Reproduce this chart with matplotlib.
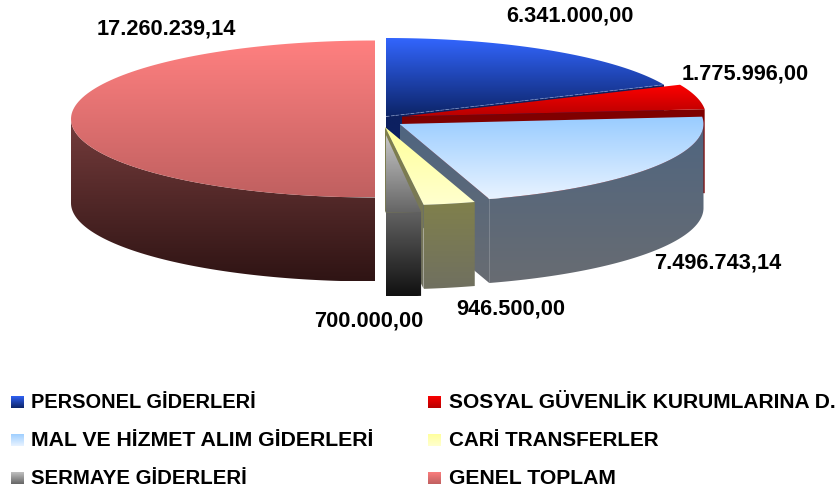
import numpy as np
import matplotlib
matplotlib.use("Agg")
import matplotlib.pyplot as plt
from matplotlib.patches import Polygon
from matplotlib.colors import to_rgb

plt.rcParams['font.family'] = ['Liberation Sans', 'DejaVu Sans']

categories = ["PERSONEL GİDERLERİ", "SOSYAL GÜVENLİK KURUMLARINA D.",
              "MAL VE HİZMET ALIM GİDERLERİ", "CARİ TRANSFERLER",
              "SERMAYE GİDERLERİ", "GENEL TOPLAM"]
values = [6341000.00, 1775996.00, 7496743.14, 946500.00, 700000.00, 17260239.14]
value_labels = ["6.341.000,00", "1.775.996,00", "7.496.743,14",
                "946.500,00", "700.000,00", "17.260.239,14"]

# presentation only
RY, DEPTH = 78.5, 84.0
radii = [304.0, 304.0, 304.0, 304.0, 280.0, 304.0]
centers = [(386, 116.5), (402, 116.5), (399.5, 124), (385, 127), (385.5, 134), (375, 119)]
top_cols = [("#3366ff", "#0c2468"), ("#ff0000", "#b80000"), ("#99ccff", "#e8f3ff"),
            ("#ffff99", "#ffffcf"), ("#c8c8c8", "#666666"), ("#ff8080", "#c06060")]
side_cols = [("#0c2060", "#0c2060"), ("#800000", "#7a0000"), ("#4f6580", "#686c72"),
             ("#80804c", "#707060"), ("#626262", "#111111"), ("#753c3c", "#2f1414")]
# (slice index, part): c = cut face, w = outer wall, t = top
draw_steps = [(0, "cwt"), (1, "cwt"), (2, "cwt"), (3, "c"), (4, "cwt"), (3, "wt"), (5, "cwt")]
label_pos = [(570, 16), (745, 74), (718, 263), (511, 309), (369, 321), (166, 29)]
legend_pos = [(11, 402), (428, 402), (11, 440), (428, 440), (11, 478), (428, 478)]
legend_text_x = [31, 449, 31, 449, 31, 449]
legend_sizes = [14.4, 15.1, 15.3, 14.9, 14.7, 15.2]

fig = plt.figure(figsize=(8.38, 4.93), dpi=100)
ax = fig.add_axes([0, 0, 1, 1])
ax.set_axis_off()


def grad_fill(pts, cols, z):
    pts = np.asarray(pts)
    x0, x1 = pts[:, 0].min(), pts[:, 0].max()
    y0, y1 = pts[:, 1].min(), pts[:, 1].max()
    c0, c1 = np.array(to_rgb(cols[0])), np.array(to_rgb(cols[1]))
    t = np.linspace(0, 1, 128)[:, None, None]
    img = c0[None, None, :] * (1 - t) + c1[None, None, :] * t
    im = ax.imshow(img, extent=(x0, x1, y1, y0), aspect='auto', zorder=z,
                   interpolation='bilinear')
    poly = Polygon(pts, closed=True, transform=ax.transData, fc='none', ec='none')
    ax.add_patch(poly)
    im.set_clip_path(poly)


def arc(i, a0, a1, dy=0.0):
    cx, cy = centers[i]
    th = np.radians(np.linspace(a0, a1, 120))
    return np.column_stack([cx + radii[i] * np.sin(th), cy - RY * np.cos(th) + dy])


total = float(np.sum(values))
angles = np.concatenate([[0], np.cumsum(values) / total * 360])

z = 1
for i, parts in draw_steps:
    a0, a1 = angles[i], angles[i + 1]
    cx, cy = centers[i]
    if "c" in parts:
        for ang in (a0, a1):
            p = arc(i, ang, ang)[0]
            if (ang == a1 and a1 < 179.9) or (ang == a0 and a0 > 180.1):
                grad_fill([(cx, cy), p, p + [0, DEPTH], (cx, cy + DEPTH)], side_cols[i], z)
                z += 1
    if "w" in parts:
        f0, f1 = max(a0, 90), min(a1, 270)
        if f1 > f0:
            grad_fill(np.vstack([arc(i, f0, f1), arc(i, f0, f1, DEPTH)[::-1]]), side_cols[i], z)
            z += 1
    if "t" in parts:
        grad_fill(np.vstack([[(cx, cy)], arc(i, a0, a1)]), top_cols[i], z)
        z += 1

# thin light edge on the first slice
p = arc(0, angles[1], angles[1])[0]
ax.plot([centers[0][0], p[0]], [centers[0][1], p[1]], color='#9fb4e8', lw=0.6,
        ls=(0, (4, 2)), alpha=0.55, zorder=z)
z += 1

for s, (x, y) in zip(value_labels, label_pos):
    ax.text(x, y, s, ha='center', va='center', fontsize=15.7, fontweight='bold',
            color='black', zorder=z)

for i, (name, (x, y), tx, fs) in enumerate(zip(categories, legend_pos, legend_text_x, legend_sizes)):
    s = 13
    grad_fill([(x, y - s / 2), (x + s, y - s / 2), (x + s, y + s / 2), (x, y + s / 2)],
              top_cols[i], z)
    ax.text(tx, y, name, ha='left', va='center', fontsize=fs, fontweight='bold',
            color='black', zorder=z)

ax.set_xlim(0, 838)
ax.set_ylim(493, 0)
fig.savefig("out.png", dpi=100, facecolor='white')
